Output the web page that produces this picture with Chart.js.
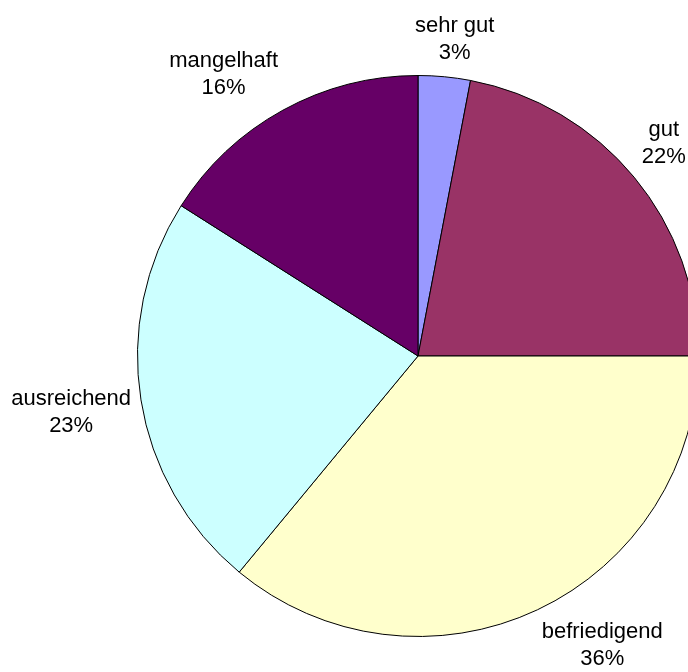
<!DOCTYPE html>
<html>
<head>
<meta charset="utf-8">
<script src="https://cdn.jsdelivr.net/npm/chart.js@4.4.1/dist/chart.umd.min.js"></script>
<style>
html,body{margin:0;padding:0;background:#fff;overflow:hidden;width:688px;height:672px;}
#wrap{position:absolute;left:0;top:0;width:700px;height:672px;}
canvas{display:block;}
</style>
</head>
<body>
<div id="wrap"><canvas id="c" width="700" height="672"></canvas></div>
<script>
const categories = ["sehr gut", "gut", "befriedigend", "ausreichend", "mangelhaft"];
const values = [3, 22, 36, 23, 16];
const percentLabels = ["3%", "22%", "36%", "23%", "16%"];
const colors = ["#9999FF", "#993366", "#FFFFCC", "#CCFFFF", "#660066"];

const FONT = "22px 'Liberation Sans', Arial, sans-serif";
const LINE_H = 27;

const outsideLabels = {
  id: 'outsideLabels',
  afterDraw(chart) {
    const ctx = chart.ctx;
    const meta = chart.getDatasetMeta(0);
    ctx.save();
    ctx.font = FONT;
    ctx.fillStyle = '#000';
    ctx.textAlign = 'center';
    ctx.textBaseline = 'middle';
    const clamp = v => Math.max(-1, Math.min(1, v));
    meta.data.forEach((arc, i) => {
      const p = arc.getProps(['x','y','startAngle','endAngle','outerRadius'], true);
      const mid = (p.startAngle + p.endAngle) / 2;
      const dx = Math.cos(mid), dy = Math.sin(mid);
      const gap = 10;
      const ax = p.x + dx * (p.outerRadius + gap);
      const ay = p.y + dy * (p.outerRadius + gap);
      const l1 = categories[i], l2 = percentLabels[i];
      const w = Math.max(ctx.measureText(l1).width, ctx.measureText(l2).width);
      const h = LINE_H * 2;
      const cx = ax + clamp(dx * 2.5) * w / 2;
      const cy = ay + clamp(dy * 2.5) * h / 2;
      ctx.fillText(l1, cx, cy - LINE_H / 2);
      ctx.fillText(l2, cx, cy + LINE_H / 2);
    });
    ctx.restore();
  }
};

new Chart(document.getElementById('c'), {
  type: 'pie',
  data: {
    labels: categories,
    datasets: [{
      data: values,
      backgroundColor: colors,
      borderColor: '#000000',
      borderWidth: 1,
      borderAlign: 'center'
    }]
  },
  options: {
    responsive: false,
    animation: false,
    layout: { padding: { top: 75, bottom: 35, left: 137, right: 1 } },
    plugins: {
      legend: { display: false },
      tooltip: { enabled: false }
    }
  },
  plugins: [outsideLabels]
});
</script>
</body>
</html>
